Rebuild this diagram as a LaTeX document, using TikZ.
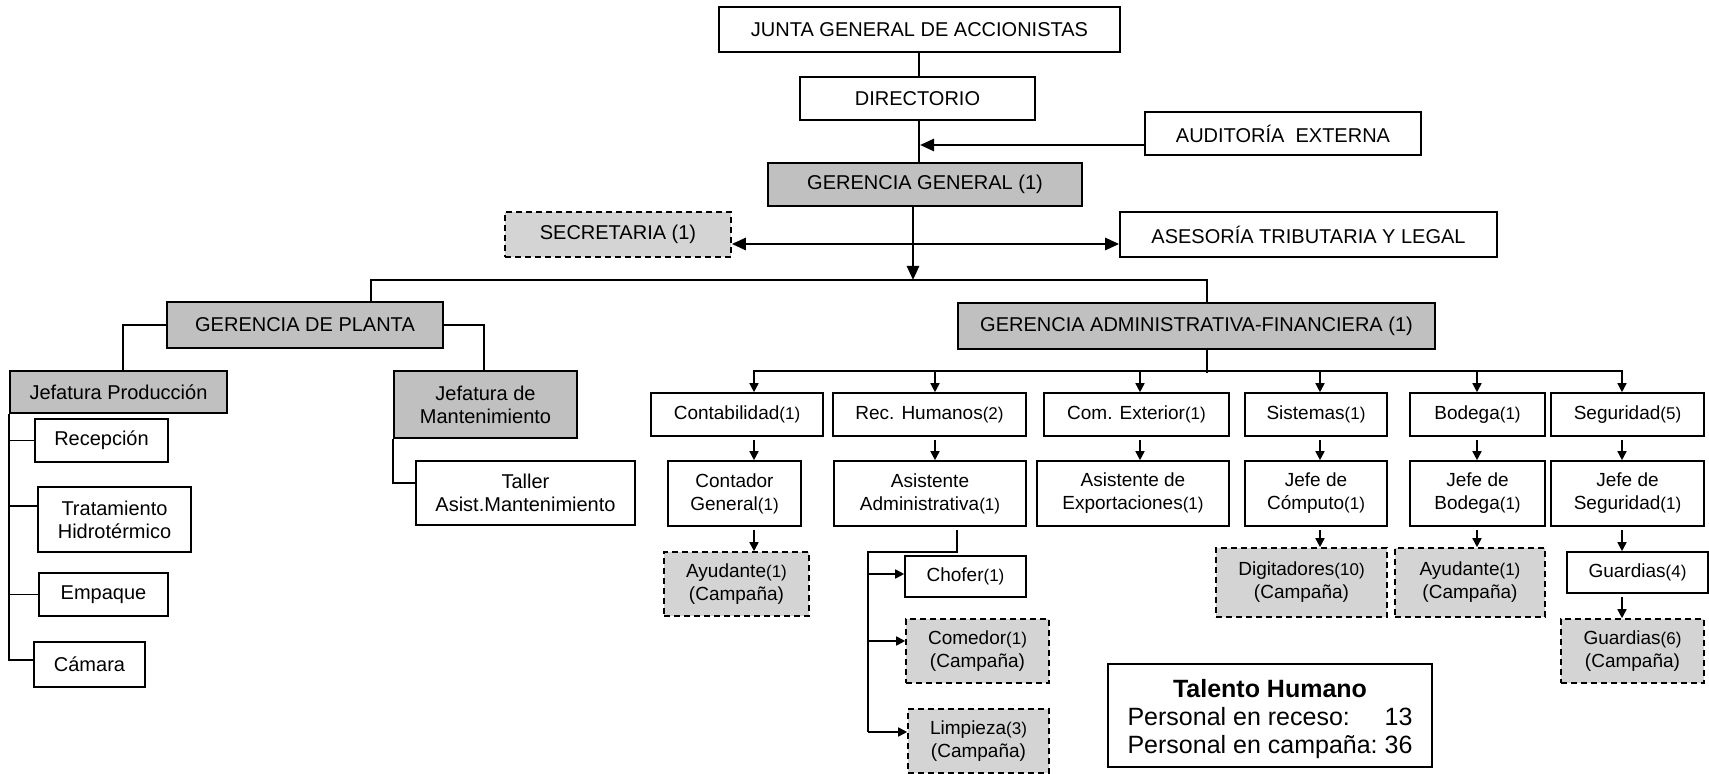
\documentclass[tikz,border=0pt]{standalone}
\usepackage{fontspec}
\setmainfont{Liberation Sans}
\usetikzlibrary{arrows.meta}

\definecolor{headgray}{RGB}{192,192,192}
\definecolor{campgray}{RGB}{212,212,212}

% head-count suffix, set a little smaller than the label
\newcommand{\cnum}[1]{{\fontsize{8.5}{9.5}\selectfont(#1)}}

\tikzset{
  box/.style={draw=black, line width=0.8pt, inner sep=1pt, align=center,
              font=\fontsize{10}{11.5}\selectfont},
  low/.style={box, font=\fontsize{9.5}{11.5}\selectfont},
  head/.style={fill=headgray},
  camp/.style={fill=campgray, dash pattern=on 3pt off 2pt},
  sz/.style 2 args={minimum width=#1*0.5pt, minimum height=#2*0.5pt},
  line/.style={line width=0.8pt},
  arr/.style={line width=0.8pt, -{Triangle[length=4.5pt,width=4.5pt]}},
  bigarr/.style={line width=1.3pt, -{Triangle[length=7pt,width=6pt]}},
}

\begin{document}
\begin{tikzpicture}[x=0.5pt, y=-0.5pt]
\useasboundingbox (0,0) rectangle (1709,774);

% ---------- top management ----------
\node[box, sz={401}{45}] (junta) at (919.5,29.5) {JUNTA GENERAL DE ACCIONISTAS};
\node[box, sz={235}{43}] (dir) at (917.5,98.5) {DIRECTORIO};
\node[box, sz={276}{43}] (aud) at (1283,133.5) {AUDITORÍA\ \ EXTERNA};
\node[box, head, sz={314}{43}] (gg) at (925,184.5) {GERENCIA GENERAL (1)};
\node[box, camp, sz={226}{45}] (sec) at (618,234.5) {SECRETARIA (1)};
\node[box, sz={377}{45}] (ase) at (1308.5,234.5) {ASESORÍA TRIBUTARIA Y LEGAL};
\node[box, head, sz={276}{46}] (gp) at (305,325) {GERENCIA DE PLANTA};
\node[box, head, sz={477}{46}] (gaf) at (1196.5,326) {GERENCIA ADMINISTRATIVA-FINANCIERA (1)};

% ---------- plant branch ----------
\node[box, head, sz={217}{42}] (jp) at (118.5,392) {Jefatura Producción};
\node[box, head, sz={183}{67}] (jm) at (485.5,404.5) {Jefatura de\\Mantenimiento};
\node[box, sz={133}{43}] (rec) at (101.5,440.5) {Recepción};
\node[box, sz={153}{65}] (tra) at (114.5,519.5) {Tratamiento\\Hidrotérmico};
\node[box, sz={129}{43}] (emp) at (103.5,594.5) {Empaque};
\node[box, sz={111}{45}] (cam) at (89.5,664.5) {Cámara};
\node[box, sz={219}{64}] (tal) at (525.5,493) {Taller\\Asist.Mantenimiento};

% ---------- administrative departments ----------
\node[low, sz={172}{43}] (cont) at (737,414.5) {Contabilidad\cnum{1}};
\node[low, sz={193}{43}] (rh) at (929.5,414.5) {Rec. Humanos\cnum{2}};
\node[low, sz={185}{43}] (ce) at (1136.5,414.5) {Com. Exterior\cnum{1}};
\node[low, sz={142}{43}] (sis) at (1316,414.5) {Sistemas\cnum{1}};
\node[low, sz={135}{43}] (bod) at (1477.5,414.5) {Bodega\cnum{1}};
\node[low, sz={153}{43}] (seg) at (1627.5,414.5) {Seguridad\cnum{5}};

\node[low, sz={133}{65}] (cg) at (734.5,493.5) {Contador\\General\cnum{1}};
\node[low, sz={192}{65}] (aa) at (930,493.5) {Asistente\\Administrativa\cnum{1}};
\node[low, sz={192}{65}] (aexp) at (1133,493.5) {Asistente de\\Exportaciones\cnum{1}};
\node[low, sz={142}{65}] (jc) at (1316,493.5) {Jefe de\\Cómputo\cnum{1}};
\node[low, sz={135}{65}] (jb) at (1477.5,493.5) {Jefe de\\Bodega\cnum{1}};
\node[low, sz={153}{65}] (js) at (1627.5,493.5) {Jefe de\\Seguridad\cnum{1}};

\node[low, camp, sz={145}{64}] (ay1) at (736.5,584) {Ayudante\cnum{1}\\(Campaña)};
\node[low, sz={121}{41}] (cho) at (965.5,576.5) {Chofer\cnum{1}};
\node[low, camp, sz={143}{64}] (com) at (977.5,651) {Comedor\cnum{1}\\(Campaña)};
\node[low, camp, sz={141}{64}] (lim) at (978.5,741) {Limpieza\cnum{3}\\(Campaña)};
\node[low, camp, sz={171}{69}] (dig) at (1301.5,582.5) {Digitadores\cnum{10}\\(Campaña)};
\node[low, camp, sz={150}{69}] (ay2) at (1470,582.5) {Ayudante\cnum{1}\\(Campaña)};
\node[low, sz={141}{41}] (g4) at (1637.5,572.5) {Guardias\cnum{4}};
\node[low, camp, sz={143}{64}] (g6) at (1632.5,651) {Guardias\cnum{6}\\(Campaña)};

% ---------- staff summary ----------
\node[draw, line width=0.8pt, sz={324}{103}, inner sep=0pt,
      font=\fontsize{12.5}{14}\selectfont] (th) at (1270,715.5)
  {\begin{tabular}{@{}l@{\ }r@{}}
     \multicolumn{2}{c}{\rule{0pt}{13.8pt}\bfseries Talento Humano}\\
     Personal en receso: & 13\\
     Personal en campaña: & 36
   \end{tabular}};

% ---------- reference points for connectors ----------
\coordinate (vx919) at (919,0);
\coordinate (audtip) at (920,145);
\coordinate (hub) at (913,280);
\coordinate (secrow) at (0,244);
\coordinate (busl) at (371,280);
\coordinate (busr) at (1207,280);
\coordinate (vx123) at (123,0);
\coordinate (vx484) at (484,0);
\coordinate (dbl) at (754,371);
\coordinate (dbr) at (1622,371);
\coordinate (vx935) at (935,0);
\coordinate (vx1140) at (1140,0);
\coordinate (vx1320) at (1320,0);
\coordinate (vx1477) at (1477,0);
\coordinate (aaj) at (957,552);
\coordinate (aatrunk) at (868,552);
\coordinate (trab) at ([yshift=6.75pt]tra.west);
\coordinate (camb) at ([yshift=2.25pt]cam.west);
\coordinate (talb) at ([yshift=5pt]tal.west);
\coordinate (chob) at ([yshift=1.25pt]cho.west);
\coordinate (comb) at ([yshift=5pt]com.west);
\coordinate (limb) at ([yshift=4.5pt]lim.west);

% ---------- top connectors ----------
\draw[line] (junta.south -| vx919) -- (dir.north -| vx919);
\draw[line] (dir.south -| vx919) -- (gg.north -| vx919);
\draw[bigarr] (audtip -| aud.west) -- (audtip);
\draw[bigarr] (gg.south -| hub) -- (hub);
\draw[line width=1.3pt, {Triangle[length=7pt,width=6pt]}-{Triangle[length=7pt,width=6pt]}]
  (secrow -| sec.east) -- (secrow -| ase.west);
\draw[line] (gp.north -| busl) -- (busl) -- (busr) -- (gaf.north -| busr);

% ---------- plant connectors ----------
\draw[line] (gp.west) -| (jp.north -| vx123);
\draw[line] (gp.east) -| (jm.north -| vx484);
\draw[line] (jp.south west) |- (camb);
\draw[line] (jp.south west |- rec.west) -- (rec.west);
\draw[line] (jp.south west |- trab) -- (trab);
\draw[line] (jp.south west |- emp.west) -- (emp.west);
\draw[line] (jm.south west) |- (talb);

% ---------- administrative connectors ----------
\draw[line] (gaf.south -| busr) -- ([yshift=-1pt]busr |- dbl);
\draw[arr] (dbr) -- (dbl) -- (cont.north -| dbl);
\draw[arr] (dbl) -- (dbr) -- (seg.north -| dbr);
\draw[arr] (dbl -| vx935) -- (rh.north -| vx935);
\draw[arr] (dbl -| vx1140) -- (ce.north -| vx1140);
\draw[arr] (dbl -| vx1320) -- (sis.north -| vx1320);
\draw[arr] (dbl -| vx1477) -- (bod.north -| vx1477);

\draw[arr] ([yshift=-1.5pt]cont.south -| dbl) -- (cg.north -| dbl);
\draw[arr] ([yshift=-1.5pt]cg.south -| dbl) -- (ay1.north -| dbl);
\draw[arr] ([yshift=-1.5pt]rh.south -| vx935) -- (aa.north -| vx935);
\draw[arr] ([yshift=-1.5pt]ce.south -| vx1140) -- (aexp.north -| vx1140);
\draw[arr] ([yshift=-1.5pt]sis.south -| vx1320) -- (jc.north -| vx1320);
\draw[arr] ([yshift=-1.5pt]jc.south -| vx1320) -- (dig.north -| vx1320);
\draw[arr] ([yshift=-1.5pt]bod.south -| vx1477) -- (jb.north -| vx1477);
\draw[arr] ([yshift=-1.5pt]jb.south -| vx1477) -- (ay2.north -| vx1477);
\draw[arr] ([yshift=-1.5pt]seg.south -| dbr) -- (js.north -| dbr);
\draw[arr] ([yshift=-1.5pt]js.south -| dbr) -- (g4.north -| dbr);
\draw[arr] ([yshift=-1.5pt]g4.south -| dbr) -- (g6.north -| dbr);

\draw[line] ([yshift=-1.5pt]aa.south -| aaj) -- (aaj) -- (aatrunk) -- (aatrunk |- limb);
\draw[arr] (aatrunk |- chob) -- (chob);
\draw[arr] (aatrunk |- comb) -- (comb);
\draw[arr] (aatrunk |- limb) -- (limb);
\end{tikzpicture}
\end{document}
